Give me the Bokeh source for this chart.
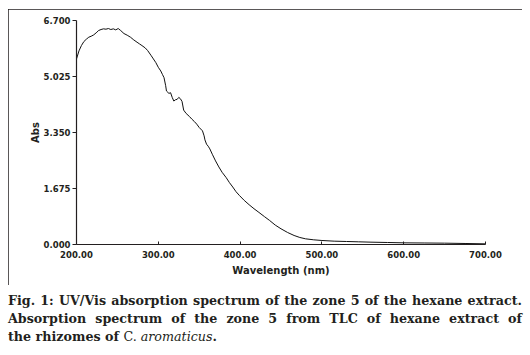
from bokeh.plotting import figure
from bokeh.models import FixedTicker, PrintfTickFormatter, Range1d, Div
from bokeh.layouts import column
from bokeh.embed import file_html
from bokeh.resources import INLINE

wavelength = [200, 203, 206, 209, 212, 215, 218, 221, 224, 227, 230, 233, 236, 239, 242, 245, 248, 251, 254,
              258, 262, 266, 270, 274, 277, 280, 284, 287, 291, 294, 297, 300, 303, 305, 307, 309, 310, 313,
              315, 317, 319, 321, 323, 325, 327, 329, 331, 334, 338, 341, 344, 347, 350, 354, 356, 357, 359,
              361, 363, 366, 370, 374, 378, 383, 387, 391, 395, 399, 405, 411, 417, 423, 430, 436, 443, 450,
              458, 466, 473, 480, 490, 500, 515, 530, 545, 560, 580, 600, 625, 650, 675, 700]
absorbance = [5.55, 5.79, 5.95, 6.07, 6.14, 6.20, 6.23, 6.27, 6.33, 6.40, 6.43, 6.45, 6.44, 6.46, 6.43, 6.45,
              6.42, 6.46, 6.40, 6.31, 6.26, 6.20, 6.12, 6.05, 6.00, 5.95, 5.88, 5.80, 5.66, 5.55, 5.44, 5.30,
              5.19, 5.09, 4.99, 4.75, 4.59, 4.52, 4.54, 4.40, 4.29, 4.33, 4.34, 4.40, 4.36, 4.28, 4.02, 3.92,
              3.83, 3.75, 3.68, 3.60, 3.50, 3.40, 3.25, 3.13, 3.00, 2.94, 2.86, 2.70, 2.50, 2.32, 2.16, 2.00,
              1.85, 1.72, 1.58, 1.47, 1.32, 1.19, 1.07, 0.96, 0.83, 0.72, 0.58, 0.47, 0.36, 0.27, 0.21, 0.17,
              0.14, 0.12, 0.10, 0.09, 0.08, 0.07, 0.06, 0.05, 0.045, 0.04, 0.03, 0.02]
x_ticks = [200, 300, 400, 500, 600, 700]
y_ticks = [0.0, 1.675, 3.35, 5.025, 6.7]
x_label = "Wavelength (nm)"
y_label = "Abs"

INK = "#231f20"

p = figure(width=514, height=276, output_backend="svg", toolbar_location=None,
           x_range=Range1d(200, 700), y_range=Range1d(0, 6.7),
           min_border_left=68, min_border_right=37, min_border_top=11, min_border_bottom=41,
           margin=(9, 8, 0, 8))
p.styles = {"outline": "2px solid #231f20", "outline-offset": "-2px"}
p.outline_line_color = None
p.grid.visible = False
p.background_fill_color = "white"
p.border_fill_color = "white"

p.line(wavelength, absorbance, line_color="#111111", line_width=1)

for ax in (p.xaxis[0], p.yaxis[0]):
    ax.axis_line_color = INK
    ax.axis_line_width = 1.2
    ax.major_tick_line_color = INK
    ax.minor_tick_line_color = None
    ax.major_label_text_font = "DejaVu Sans"
    ax.major_label_text_font_style = "bold"
    ax.major_label_text_font_size = "8.5px"
    ax.major_label_text_color = INK
    ax.axis_label_text_font = "DejaVu Sans"
    ax.axis_label_text_font_style = "bold"
    ax.axis_label_text_font_size = "10px"
    ax.axis_label_text_color = INK

p.xaxis[0].ticker = FixedTicker(ticks=x_ticks)
p.xaxis[0].formatter = PrintfTickFormatter(format="%.2f")
p.xaxis[0].major_tick_in = 3
p.xaxis[0].major_tick_out = 0
p.xaxis[0].major_label_standoff = 6
p.xaxis[0].axis_label = x_label
p.xaxis[0].axis_label_standoff = 4

p.yaxis[0].ticker = FixedTicker(ticks=y_ticks)
p.yaxis[0].formatter = PrintfTickFormatter(format="%.3f")
p.yaxis[0].major_tick_in = 0
p.yaxis[0].major_tick_out = 4
p.yaxis[0].major_label_standoff = 2
p.yaxis[0].axis_label = y_label
p.yaxis[0].axis_label_standoff = 0

cap_style = ("font-family:'DejaVu Serif'; font-weight:bold; font-size:12.7px; color:#231f20; "
             "line-height:18px; width:514px; white-space:nowrap;")
just = "text-align:justify; text-align-last:justify;"
caption_html = (
    f"<div style=\"{cap_style}{just}\">Fig. 1: UV/Vis absorption spectrum of the zone 5 of the hexane extract.</div>"
    f"<div style=\"{cap_style}{just}\">Absorption spectrum of the zone 5 from TLC of hexane extract of</div>"
    f"<div style=\"{cap_style}\">the rhizomes of <span style='font-weight:normal'>C. <i>aromaticus</i></span>.</div>"
)
cap = Div(text=caption_html, width=514, height=58, margin=(7, 8, 0, 8))

layout = column(p, cap, spacing=0)
open("out.html", "w").write(file_html(layout, INLINE))
